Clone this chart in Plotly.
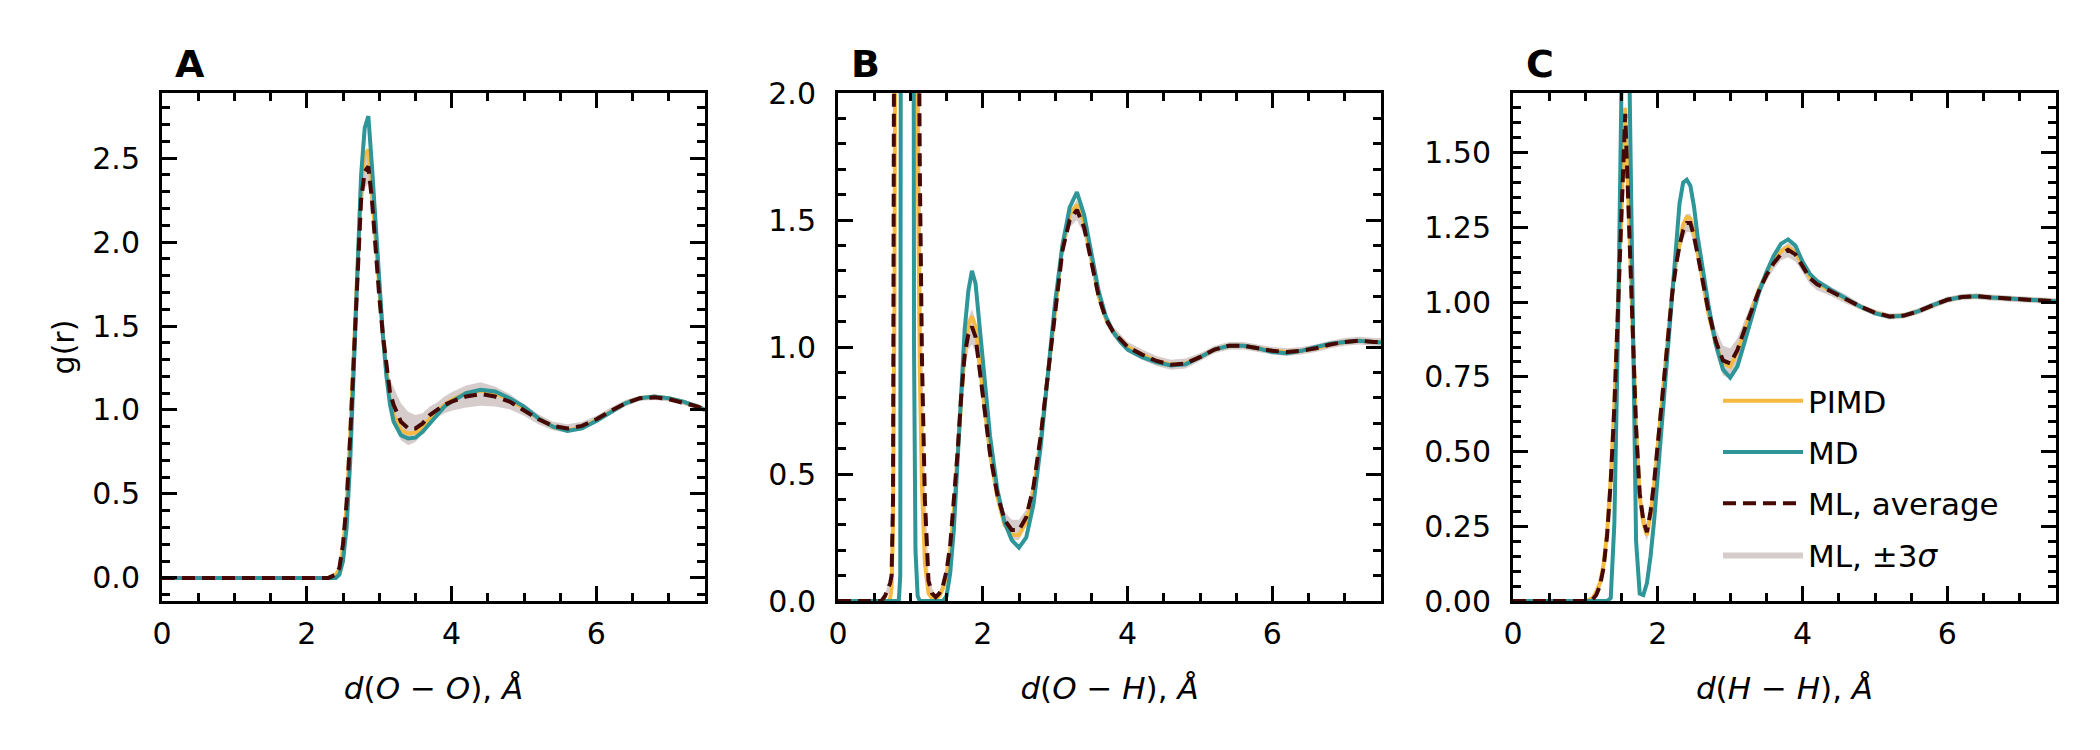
import plotly.graph_objects as go
from plotly.subplots import make_subplots

# ---- panel A: O-O ----
r_oo = [0.0, 2.3, 2.4, 2.45, 2.5, 2.55, 2.6, 2.65, 2.7, 2.75, 2.8, 2.85, 2.9, 2.95, 3.0,
        3.05, 3.1, 3.15, 3.2, 3.3, 3.4, 3.5, 3.6, 3.7, 3.8, 3.9, 4.0, 4.2, 4.4, 4.6,
        4.8, 5.0, 5.2, 5.4, 5.6, 5.8, 6.0, 6.2, 6.4, 6.6, 6.8, 7.0, 7.2, 7.4, 7.5]
pimd_oo = [0, 0, 0.02, 0.05, 0.18, 0.42, 0.85, 1.35, 1.9, 2.35, 2.52, 2.55, 2.3, 2.0, 1.7,
           1.45, 1.22, 1.06, 0.97, 0.88, 0.86, 0.865, 0.9, 0.95, 0.99, 1.03, 1.06, 1.1, 1.115, 1.1,
           1.06, 1.01, 0.95, 0.9, 0.88, 0.895, 0.94, 0.99, 1.04, 1.07, 1.08, 1.07, 1.05, 1.02, 1.0]
md_oo = [0, 0, 0, 0.02, 0.1, 0.3, 0.7, 1.25, 1.85, 2.4, 2.68, 2.75, 2.45, 2.1, 1.75,
         1.45, 1.2, 1.03, 0.93, 0.85, 0.83, 0.835, 0.87, 0.92, 0.97, 1.02, 1.05, 1.1, 1.12, 1.11,
         1.07, 1.02, 0.95, 0.9, 0.875, 0.89, 0.935, 0.99, 1.04, 1.07, 1.08, 1.07, 1.05, 1.02, 1.0]
ml_oo = [0, 0, 0.02, 0.06, 0.2, 0.45, 0.85, 1.35, 1.85, 2.25, 2.42, 2.45, 2.25, 1.95, 1.68,
         1.45, 1.25, 1.1, 1.03, 0.93, 0.89, 0.89, 0.92, 0.97, 1.0, 1.03, 1.05, 1.08, 1.095, 1.08,
         1.05, 1.0, 0.945, 0.905, 0.89, 0.905, 0.945, 0.995, 1.04, 1.07, 1.075, 1.065, 1.045, 1.02, 1.0]
ml3s_oo = [0, 0, 0.005, 0.01, 0.02, 0.03, 0.04, 0.05, 0.06, 0.08, 0.1, 0.1, 0.08, 0.06, 0.05,
           0.05, 0.06, 0.08, 0.1, 0.11, 0.1, 0.08, 0.06, 0.05, 0.045, 0.05, 0.055, 0.065, 0.07, 0.06,
           0.045, 0.035, 0.03, 0.025, 0.025, 0.025, 0.02, 0.02, 0.02, 0.015, 0.015, 0.015, 0.015, 0.015, 0.015]

# ---- panel B: O-H ----
r_oh = [0.0, 0.6, 0.65, 0.7, 0.72, 0.74, 0.76, 0.78, 0.8, 0.82,
        0.84, 0.86, 0.88, 0.92, 0.96, 1.0, 1.03, 1.05, 1.07, 1.1,
        1.13, 1.16, 1.2, 1.25, 1.3, 1.35, 1.4, 1.45, 1.5, 1.55,
        1.6, 1.65, 1.7, 1.75, 1.8, 1.85, 1.9, 1.95, 2.0, 2.1,
        2.2, 2.3, 2.4, 2.5, 2.6, 2.7, 2.8, 2.9, 3.0, 3.1,
        3.2, 3.3, 3.4, 3.5, 3.6, 3.7, 3.8, 3.9, 4.0, 4.2,
        4.4, 4.6, 4.8, 5.0, 5.2, 5.4, 5.6, 5.8, 6.0, 6.2,
        6.4, 6.6, 6.8, 7.0, 7.2, 7.4, 7.5]
pimd_oh = [0, 0, 0, 0, 0.01, 0.05, 0.3, 1.2, 3.5, 7.0,
           10.0, 12.0, 13.0, 13.0, 12.0, 9.0, 6.5, 5.0, 3.5, 1.8,
           0.9, 0.45, 0.15, 0.03, 0.01, 0.01, 0.02, 0.05, 0.1, 0.2,
           0.36, 0.57, 0.8, 0.99, 1.09, 1.12, 1.08, 0.96, 0.82, 0.58,
           0.41, 0.3, 0.26, 0.26, 0.31, 0.43, 0.64, 0.9, 1.17, 1.4,
           1.52, 1.56, 1.49, 1.34, 1.2, 1.11, 1.06, 1.03, 1.0, 0.97,
           0.945, 0.93, 0.935, 0.96, 0.99, 1.005, 1.005, 0.995, 0.985, 0.98,
           0.985, 0.995, 1.01, 1.02, 1.025, 1.02, 1.02]
md_oh = [0, 0, 0, 0, 0, 0, 0, 0, 0, 0,
         0, 0.1, 6.0, 25.0, 32.0, 22.0, 6.0, 1.0, 0.2, 0.02,
         0, 0, 0, 0, 0, 0, 0, 0, 0.02, 0.11,
         0.28, 0.55, 0.84, 1.07, 1.22, 1.30, 1.25, 1.10, 0.93, 0.65,
         0.44, 0.31, 0.24, 0.21, 0.25, 0.38, 0.61, 0.88, 1.18, 1.40,
         1.55, 1.61, 1.52, 1.37, 1.22, 1.12, 1.06, 1.02, 0.99, 0.96,
         0.94, 0.927, 0.932, 0.96, 0.99, 1.005, 1.005, 0.995, 0.98, 0.975,
         0.985, 1.0, 1.013, 1.02, 1.025, 1.02, 1.018]
ml_oh = [0, 0, 0.02, 0.05, 0.07, 0.1, 0.4, 3.0, 6.0, 8.5,
         10.0, 11.0, 11.5, 11.5, 10.5, 8.0, 6.5, 5.5, 4.5, 3.0,
         1.7, 0.95, 0.4, 0.08, 0.03, 0.015, 0.03, 0.06, 0.12, 0.22,
         0.38, 0.58, 0.8, 0.97, 1.05, 1.08, 1.04, 0.93, 0.8, 0.58,
         0.42, 0.32, 0.28, 0.28, 0.33, 0.45, 0.65, 0.9, 1.16, 1.38,
         1.5, 1.54, 1.47, 1.33, 1.2, 1.11, 1.06, 1.03, 1.0, 0.97,
         0.945, 0.93, 0.935, 0.96, 0.99, 1.005, 1.005, 0.995, 0.985, 0.98,
         0.985, 0.995, 1.01, 1.02, 1.025, 1.02, 1.02]
ml3s_oh = [0, 0, 0.01, 0.02, 0.02, 0.03, 0.1, 0.5, 0.8, 1.0,
           1.0, 1.0, 1.0, 1.0, 1.0, 1.0, 0.8, 0.7, 0.6, 0.5,
           0.3, 0.15, 0.08, 0.03, 0.02, 0.01, 0.01, 0.02, 0.03, 0.04,
           0.05, 0.06, 0.06, 0.06, 0.06, 0.07, 0.06, 0.05, 0.05, 0.04,
           0.03, 0.03, 0.04, 0.04, 0.03, 0.03, 0.03, 0.03, 0.03, 0.03,
           0.03, 0.04, 0.03, 0.03, 0.02, 0.02, 0.02, 0.02, 0.02, 0.02,
           0.02, 0.02, 0.02, 0.015, 0.015, 0.015, 0.015, 0.015, 0.015, 0.015,
           0.015, 0.015, 0.015, 0.015, 0.015, 0.015, 0.015]

# ---- panel C: H-H ----
r_hh = [0.0, 1.0, 1.1, 1.15, 1.2, 1.25, 1.3, 1.35, 1.4, 1.45,
        1.5, 1.55, 1.6, 1.65, 1.7, 1.75, 1.8, 1.85, 1.9, 1.95,
        2.0, 2.05, 2.1, 2.15, 2.2, 2.25, 2.3, 2.35, 2.4, 2.45,
        2.5, 2.55, 2.6, 2.7, 2.8, 2.9, 3.0, 3.1, 3.2, 3.3,
        3.4, 3.5, 3.6, 3.7, 3.8, 3.9, 4.0, 4.1, 4.2, 4.4,
        4.6, 4.8, 5.0, 5.2, 5.4, 5.6, 5.8, 6.0, 6.2, 6.4,
        6.6, 6.8, 7.0, 7.2, 7.5]
pimd_hh = [0, 0, 0.01, 0.03, 0.06, 0.12, 0.23, 0.41, 0.66, 0.97,
           1.32, 1.65, 1.3, 0.93, 0.58, 0.35, 0.26, 0.22, 0.29, 0.39,
           0.52, 0.65, 0.78, 0.91, 1.04, 1.13, 1.2, 1.26, 1.285, 1.28,
           1.235, 1.17, 1.1, 0.96, 0.86, 0.795, 0.785, 0.835, 0.905, 0.98,
           1.045, 1.095, 1.14, 1.17, 1.185, 1.165, 1.125, 1.085, 1.063, 1.035,
           1.01, 0.985, 0.965, 0.952, 0.955, 0.97, 0.99, 1.008, 1.017, 1.02,
           1.016, 1.012, 1.01, 1.007, 1.003]
md_hh = [0, 0, 0, 0, 0, 0, 0, 0.01, 0.26, 0.9,
         2.3, 2.6, 1.9, 0.95, 0.2, 0.025, 0.02, 0.06, 0.15, 0.27,
         0.42, 0.58, 0.73, 0.88, 1.02, 1.2, 1.33, 1.40, 1.41, 1.39,
         1.32, 1.22, 1.14, 0.99, 0.86, 0.775, 0.747, 0.785, 0.867, 0.955,
         1.035, 1.1, 1.155, 1.195, 1.21, 1.19, 1.135, 1.095, 1.07, 1.04,
         1.012, 0.985, 0.963, 0.951, 0.955, 0.97, 0.99, 1.008, 1.017, 1.02,
         1.016, 1.012, 1.01, 1.007, 1.003]
ml_hh = [0, 0, 0.005, 0.02, 0.05, 0.11, 0.22, 0.4, 0.65, 0.95,
         1.3, 1.63, 1.28, 0.92, 0.58, 0.36, 0.27, 0.23, 0.3, 0.4,
         0.53, 0.65, 0.78, 0.9, 1.03, 1.12, 1.19, 1.24, 1.265, 1.265,
         1.22, 1.16, 1.1, 0.97, 0.87, 0.805, 0.795, 0.84, 0.91, 0.98,
         1.04, 1.09, 1.13, 1.16, 1.175, 1.16, 1.12, 1.08, 1.06, 1.035,
         1.01, 0.985, 0.965, 0.952, 0.955, 0.97, 0.99, 1.008, 1.017, 1.02,
         1.016, 1.012, 1.01, 1.007, 1.003]
ml3s_hh = [0, 0, 0.003, 0.005, 0.01, 0.01, 0.015, 0.02, 0.02, 0.03,
           0.03, 0.04, 0.03, 0.03, 0.03, 0.03, 0.03, 0.03, 0.03, 0.03,
           0.025, 0.02, 0.02, 0.02, 0.02, 0.025, 0.03, 0.03, 0.03, 0.03,
           0.03, 0.03, 0.03, 0.03, 0.04, 0.05, 0.05, 0.04, 0.03, 0.02,
           0.02, 0.02, 0.02, 0.02, 0.025, 0.025, 0.02, 0.02, 0.02, 0.015,
           0.015, 0.01, 0.01, 0.01, 0.01, 0.01, 0.01, 0.01, 0.01, 0.01,
           0.01, 0.01, 0.01, 0.01, 0.01]

panel_letters = ["A", "B", "C"]
x_titles = ["<i>d</i>(<i>O</i> − <i>O</i>), <i>Å</i>",
            "<i>d</i>(<i>O</i> − <i>H</i>), <i>Å</i>",
            "<i>d</i>(<i>H</i> − <i>H</i>), <i>Å</i>"]

PIMD_C = "#f6b941"
MD_C = "#2e9598"
ML_C = "#450805"
BAND_C = "rgba(214,204,203,1)"
FONT = "DejaVu Sans"
W, H = 2100, 750
OFF = 8  # page body margin shifts the figure on screen

fig = make_subplots(rows=1, cols=3)


def add_panel(col, r, pimd, md, ml, ml3s, legend):
    upper = [m + s for m, s in zip(ml, ml3s)]
    lower = [m - s for m, s in zip(ml, ml3s)]
    fig.add_trace(go.Scatter(x=r, y=upper, mode="lines", line=dict(width=0, color=BAND_C),
                             showlegend=False, legendgroup="band", hoverinfo="skip"), row=1, col=col)
    fig.add_trace(go.Scatter(x=r, y=lower, mode="lines", fill="tonexty", fillcolor=BAND_C,
                             line=dict(width=0, color=BAND_C), name="ML, ±3<i>σ</i>",
                             legendgroup="band", legendrank=4, showlegend=legend), row=1, col=col)
    fig.add_trace(go.Scatter(x=r, y=pimd, mode="lines", line=dict(color=PIMD_C, width=4),
                             name="PIMD", legendgroup="pimd", legendrank=1, showlegend=legend),
                  row=1, col=col)
    fig.add_trace(go.Scatter(x=r, y=md, mode="lines", line=dict(color=MD_C, width=4),
                             name="MD", legendgroup="md", legendrank=2, showlegend=legend),
                  row=1, col=col)
    fig.add_trace(go.Scatter(x=r, y=ml, mode="lines",
                             line=dict(color=ML_C, width=4, dash="13px,7px"),
                             name="ML, average", legendgroup="ml", legendrank=3, showlegend=legend),
                  row=1, col=col)


add_panel(1, r_oo, pimd_oo, md_oo, ml_oo, ml3s_oo, False)
add_panel(2, r_oh, pimd_oh, md_oh, ml_oh, ml3s_oh, False)
add_panel(3, r_hh, pimd_hh, md_hh, ml_hh, ml3s_hh, True)


def px_x(p):
    return (p - OFF) / W


def px_y(p):
    return 1 - (p - OFF) / H


x_domains = [[px_x(162), px_x(705)], [px_x(838), px_x(1381)], [px_x(1513), px_x(2056)]]
y_domain = [px_y(601), px_y(93)]
y_ranges = [[-0.1375, 2.8875], [0, 2.0], [0, 1.7]]
y_dticks = [0.5, 0.5, 0.25]
y_minor = [0.1, 0.1, 0.05]
y_formats = [".1f", ".1f", ".2f"]

axis_common = dict(showline=True, linewidth=3, linecolor="black", mirror="allticks",
                   ticks="inside", ticklen=15, tickwidth=3, tickcolor="black",
                   showgrid=False, zeroline=False, automargin=False,
                   tickfont=dict(family=FONT, size=30, color="black"))

for i in range(3):
    fig.update_xaxes(row=1, col=i + 1, domain=x_domains[i], range=[0, 7.5], dtick=2, tick0=0,
                     minor=dict(ticks="inside", ticklen=8, tickwidth=2.5, tickcolor="black", dtick=0.5),
                     ticklabelstandoff=4,
                     title=dict(text=x_titles[i], standoff=28,
                                font=dict(family=FONT, size=31, color="black")),
                     **axis_common)
    fig.update_yaxes(row=1, col=i + 1, domain=y_domain, range=y_ranges[i], dtick=y_dticks[i], tick0=0,
                     tickformat=y_formats[i],
                     minor=dict(ticks="inside", ticklen=8, tickwidth=2.5, tickcolor="black",
                                dtick=y_minor[i]),
                     ticklabelstandoff=13, **axis_common)
    xref = "x domain" if i == 0 else f"x{i + 1} domain"
    yref = "y domain" if i == 0 else f"y{i + 1} domain"
    fig.add_annotation(text=f"<b>{panel_letters[i]}</b>", x=0.02, y=1.057, xref=xref, yref=yref,
                       xanchor="left", yanchor="middle", showarrow=False,
                       font=dict(family=FONT, size=38, color="black"))

fig.update_yaxes(row=1, col=1, title=dict(text="g(r)", standoff=9,
                                          font=dict(family=FONT, size=30, color="black")))

fig.update_layout(
    width=W, height=H,
    margin=dict(l=0, r=0, t=0, b=0),
    paper_bgcolor="white", plot_bgcolor="white",
    font=dict(family=FONT, size=30, color="black"),
    legend=dict(x=px_x(1718), y=px_y(374), xanchor="left", yanchor="top",
                bgcolor="rgba(0,0,0,0)", tracegroupgap=8, itemwidth=80,
                font=dict(family=FONT, size=31, color="black")),
)

fig.write_html("out.html")
